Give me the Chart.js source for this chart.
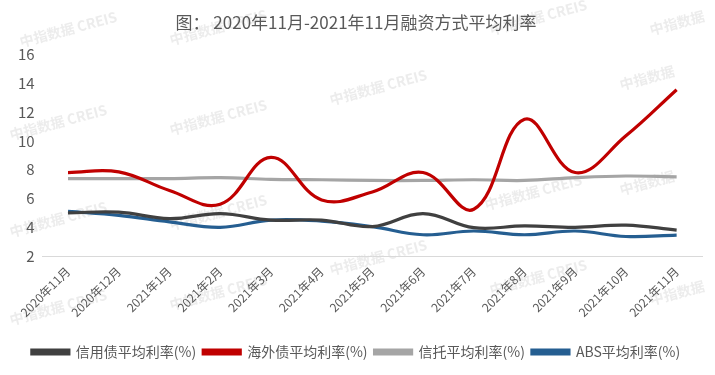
<!DOCTYPE html>
<html>
<head>
<meta charset="utf-8">
<script src="https://cdn.jsdelivr.net/npm/chart.js@4"></script>
<style>
  html, body { margin: 0; padding: 0; background: #fff; }
  #wrap { width: 715px; height: 375px; }
</style>
</head>
<body>
<div id="wrap"><canvas id="rateChart" width="715" height="375"></canvas></div>
<script>
// months on the x axis
const months = ['2020年11月', '2020年12月', '2021年1月', '2021年2月', '2021年3月', '2021年4月',
  '2021年5月', '2021年6月', '2021年7月', '2021年8月', '2021年9月', '2021年10月', '2021年11月'];

// average rates (%)
const creditBond = [5.0, 5.05, 4.6, 4.95, 4.5, 4.5, 4.05, 4.95, 3.97, 4.1, 4.0, 4.15, 3.8];
const overseasBond = [7.8, 7.85, 6.55, 5.6, 8.85, 5.9, 6.45, 7.8, 5.25, 11.5, 7.8, 10.35, 13.55];
const trustRate = [7.38, 7.38, 7.38, 7.45, 7.32, 7.3, 7.25, 7.25, 7.3, 7.25, 7.45, 7.56, 7.5];
const absRate = [5.1, 4.83, 4.38, 4.0, 4.5, 4.43, 4.04, 3.48, 3.74, 3.48, 3.74, 3.36, 3.46];

const seriesNames = ['信用债平均利率(%)', '海外债平均利率(%)', '信托平均利率(%)', 'ABS平均利率(%)'];
const yTicks = [2, 4, 6, 8, 10, 12, 14, 16];

const FONT = "'Noto Sans CJK SC', 'Noto Sans', sans-serif";
const TEXT_COLOR = '#595959';

/**
 * Faint watermark text across the canvas
 */
const watermark = {
  id: 'watermark',
  beforeDraw(chart) {
    const ctx = chart.ctx;
    const spots = [
      [20, 42, '中指数据 CREIS'], [330, 100, '中指数据 CREIS'], [490, 30, '中指数据 CREIS'],
      [10, 135, '中指数据 CREIS'], [170, 130, '中指数据 CREIS'], [620, 85, '中指数据'],
      [170, 225, '中指数据 CREIS'], [10, 232, '中指数据 CREIS'], [485, 205, '中指数据 CREIS'],
      [620, 190, '中指数据'], [10, 320, '中指数据 CREIS'], [170, 305, '中指数据 CREIS'],
      [490, 290, '中指数据 CREIS'], [650, 300, '中指数据'], [330, 270, '中指数据 CREIS'],
      [170, 40, '中指数据 CREIS'], [650, 30, '中指数据']
    ];
    ctx.save();
    ctx.font = `bold 14px ${FONT}`;
    ctx.fillStyle = 'rgba(200, 200, 200, 0.35)';
    for (const [x, y, t] of spots) {
      ctx.save();
      ctx.translate(x, y);
      ctx.rotate(-0.26);
      ctx.fillText(t, 0, 0);
      ctx.restore();
    }
    ctx.restore();
  },
};

function makeSet(label, data, color) {
  return {
    label,
    data,
    borderColor: color,
    backgroundColor: color,
    borderWidth: 3.2,
    tension: 0.4,
    pointRadius: 0,
    fill: false,
  };
}

const ctx = document.getElementById('rateChart').getContext('2d');
new Chart(ctx, {
  type: 'line',
  data: {
    labels: months,
    datasets: [
      makeSet(seriesNames[0], creditBond, '#404040'),
      makeSet(seriesNames[1], overseasBond, '#C00000'),
      makeSet(seriesNames[2], trustRate, '#A5A5A5'),
      makeSet(seriesNames[3], absRate, '#255E91'),
    ],
  },
  options: {
    responsive: false,
    animation: false,
    layout: { padding: { left: 10, right: 13, top: 8, bottom: 6 } },
    plugins: {
      title: {
        display: true,
        text: '图： 2020年11月-2021年11月融资方式平均利率',
        color: TEXT_COLOR,
        font: { size: 17, family: FONT, weight: 'normal' },
        padding: { top: 4, bottom: 22 },
      },
      legend: {
        position: 'bottom',
        labels: {
          boxWidth: 37,
          boxHeight: 4,
          padding: 7,
          color: TEXT_COLOR,
          font: { size: 14, family: FONT },
        },
      },
      tooltip: { enabled: false },
    },
    scales: {
      x: {
        offset: true,
        grid: { display: false, drawTicks: false },
        border: { display: true, color: '#d9d9d9', width: 1 },
        ticks: {
          color: TEXT_COLOR,
          font: { size: 12, family: FONT },
          minRotation: 45,
          maxRotation: 45,
          autoSkip: false,
          padding: 8,
        },
        // leave a gap between the month labels and the legend
        afterFit: (axis) => { axis.height += 10.5; },
      },
      y: {
        min: yTicks[0],
        max: yTicks[yTicks.length - 1],
        grid: { display: false, drawTicks: false },
        border: { display: false },
        afterBuildTicks: (axis) => { axis.ticks = yTicks.map(v => ({ value: v })); },
        ticks: {
          color: TEXT_COLOR,
          font: { size: 15, family: FONT },
          padding: 8,
        },
      },
    },
  },
  plugins: [watermark],
});
</script>
</body>
</html>
